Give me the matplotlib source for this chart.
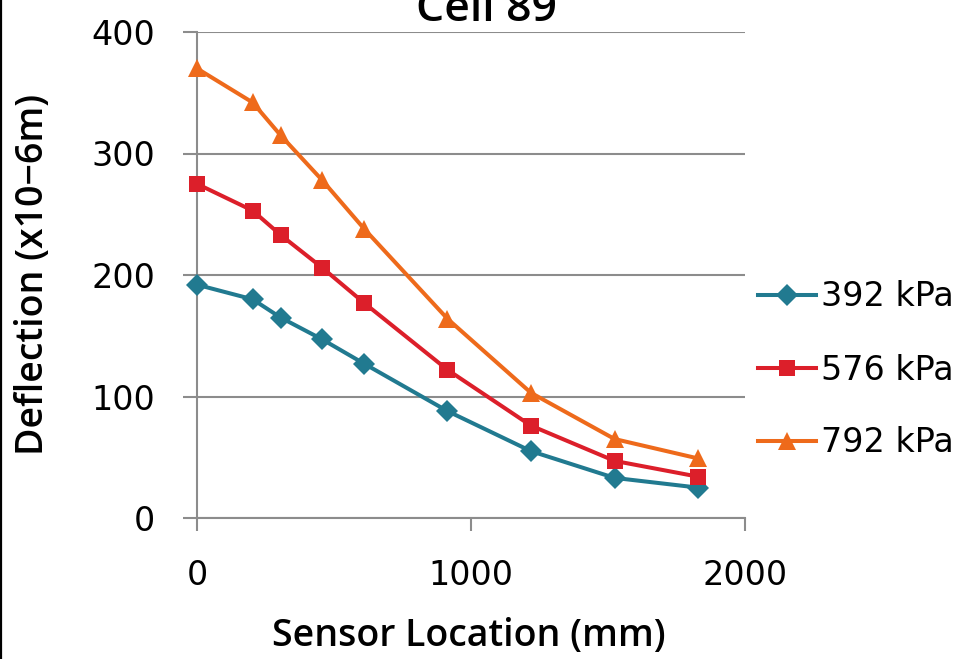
#!/usr/bin/env python3
"""
Deflection basin for Cell 89 at three load levels.
"""

import matplotlib

matplotlib.use("Agg")
import matplotlib.pyplot as plt
from matplotlib.lines import Line2D


SENSOR_MM = [0, 203, 305, 457, 610, 914, 1219, 1524, 1829]
DEFL_392 = [192, 180, 165, 147, 127, 88, 55, 33, 25]
DEFL_576 = [275, 253, 233, 206, 177, 122, 76, 47, 34]
DEFL_792 = [370, 342, 315, 278, 238, 164, 103, 65, 49]
SERIES_LABELS = ["392 kPa", "576 kPa", "792 kPa"]

TEAL = "#217A90"
RED = "#DC1F2A"
ORANGE = "#EE6A1B"
GRID = "#8C8C8C"
LABEL_FONT = ["Open Sans", "DejaVu Sans"]

plt.rcParams.update({"font.family": "DejaVu Sans", "font.size": 24})

W, H = 971, 659
fig = plt.figure(figsize=(W / 100, H / 100), dpi=100)
ax = fig.add_axes([197 / W, 1 - 518 / H, (745 - 197) / W, (518 - 32) / H])

series = [
    (DEFL_392, TEAL, "D", 11),
    (DEFL_576, RED, "s", 12),
    (DEFL_792, ORANGE, "^", 13),
]
for vals, color, marker, ms in series:
    ax.plot(SENSOR_MM, vals, color=color, linewidth=2.9, marker=marker,
            markersize=ms, markeredgewidth=0, clip_on=False, zorder=3)

ax.set_xlim(0, 2000)
ax.set_ylim(0, 400)
ax.set_xticks([0, 1000, 2000])
ax.set_yticks([0, 100, 200, 300, 400])
ax.yaxis.grid(True, color=GRID, linewidth=1.5)
ax.set_axisbelow(True)
for side in ("top", "right"):
    ax.spines[side].set_visible(False)
for side in ("left", "bottom"):
    ax.spines[side].set_color(GRID)
    ax.spines[side].set_linewidth(1.5)
ax.tick_params(axis="y", length=10, width=1.5, color=GRID, pad=20, labelsize=24)
ax.tick_params(axis="x", length=9.5, width=1.5, color=GRID, pad=20, labelsize=24)

fig.text(469 / W, 1 - 636 / H, "Sensor Location (mm)", ha="center", va="center",
         fontsize=27, fontweight="semibold", family=LABEL_FONT)
fig.text(33 / W, 1 - 274 / H, "Deflection (x10\u22126m)", ha="center", va="center",
         rotation=90, fontsize=27, fontweight="semibold", family=LABEL_FONT)
fig.text(487 / W, 1 - 21 / H, "Cell 89", ha="center", va="baseline",
         fontsize=32, fontweight="semibold", family=LABEL_FONT)

handles = [
    Line2D([], [], color=c, linewidth=2.9, marker=m, markersize=ms, markeredgewidth=0)
    for _, c, m, ms in series
]
fig.legend(handles, SERIES_LABELS, loc="center left",
           bbox_to_anchor=(758 / W, 1 - 370 / H), frameon=False,
           handlelength=1.75, handletextpad=0.15, labelspacing=1.2, fontsize=24,
           borderaxespad=0, borderpad=0)

fig.add_artist(Line2D([1 / W, 1 / W], [0, 1], color="black", linewidth=1.6,
                      transform=fig.transFigure))

fig.savefig("out.png", dpi=100)
